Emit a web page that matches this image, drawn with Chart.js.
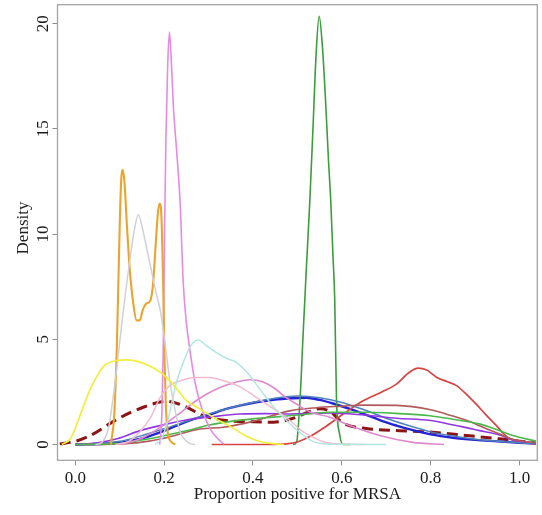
<!DOCTYPE html>
<html>
<head>
<meta charset="utf-8">
<script src="https://cdn.jsdelivr.net/npm/chart.js@4.4.1/dist/chart.umd.min.js"></script>
<style>
html,body{margin:0;padding:0;background:#fff;}
canvas{display:block;}
</style>
</head>
<body>
<canvas id="c" width="542" height="515"></canvas>
<script>
// ---- tick labels / titles ----
const xTickValues = [0, 0.2, 0.4, 0.6, 0.8, 1.0];
const xTickLabels = ["0.0", "0.2", "0.4", "0.6", "0.8", "1.0"];
const yTickValues = [0, 5, 10, 15, 20];
const yTickLabels = ["0", "5", "10", "15", "20"];
const xTitle = "Proportion positive for MRSA";
const yTitle = "Density";

// ---- series (x = proportion, y = density) ----
const yellowX = [-0.03, -0.01, 0.005, 0.02, 0.034, 0.05, 0.065, 0.09, 0.116, 0.14, 0.165, 0.19, 0.21, 0.23, 0.25, 0.28, 0.31, 0.35, 0.38, 0.41, 0.44, 0.47];
const yellowY = [0, 0.3, 1.06, 1.9, 2.64, 3.3, 3.74, 3.98, 4.02, 3.95, 3.75, 3.45, 3.1, 2.6, 2.1, 1.7, 1.3, 0.85, 0.45, 0.18, 0.05, 0];

const orangeX = [0.08, 0.088, 0.094, 0.099, 0.103, 0.107, 0.111, 0.116, 0.122, 0.13, 0.138, 0.145, 0.152, 0.16, 0.168, 0.175, 0.181, 0.186, 0.19, 0.194, 0.198, 0.201, 0.204, 0.208, 0.215, 0.225];
const orangeY = [0, 1.5, 5, 9.5, 12.4, 13.05, 12.4, 10.5, 8.5, 6.8, 5.9, 5.9, 6.4, 6.7, 6.8, 7.6, 9.5, 11.0, 11.45, 10.8, 7.5, 4.0, 1.8, 0.6, 0.15, 0];

const greyX = [0.045, 0.06, 0.075, 0.085, 0.094, 0.105, 0.116, 0.125, 0.133, 0.142, 0.152, 0.162, 0.172, 0.182, 0.192, 0.202, 0.213, 0.225, 0.236, 0.248, 0.26, 0.27];
const greyY = [0, 0.1, 0.8, 2.2, 3.74, 5.8, 7.7, 9.1, 10.2, 10.92, 10.2, 9.2, 8.2, 7.2, 6.3, 4.8, 3.0, 1.6, 0.6, 0.2, 0.03, 0];

const violetX = [0.19, 0.195, 0.198, 0.201, 0.204, 0.208, 0.212, 0.216, 0.221, 0.228, 0.236, 0.243, 0.25, 0.258, 0.27, 0.288, 0.305, 0.32, 0.335];
const violetY = [0, 1.5, 4.5, 10, 14.5, 18, 19.6, 18.3, 16, 14, 11.5, 7.7, 5.8, 4.5, 2.9, 1.5, 0.7, 0.3, 0];

const cyanX = [0.18, 0.195, 0.21, 0.228, 0.245, 0.26, 0.277, 0.295, 0.318, 0.34, 0.363, 0.393, 0.42, 0.45, 0.48, 0.51, 0.535, 0.56, 0.6, 0.7];
const cyanY = [0, 0.3, 1.3, 2.97, 4.0, 4.7, 4.97, 4.7, 4.37, 4.1, 3.9, 3.27, 2.5, 1.7, 1.05, 0.5, 0.15, 0.04, 0.01, 0];

const pinkX = [0.09, 0.12, 0.145, 0.17, 0.19, 0.21, 0.24, 0.27, 0.3, 0.33, 0.37, 0.4, 0.43, 0.46, 0.483, 0.51, 0.535, 0.56, 0.6, 0.65];
const pinkY = [0, 0.15, 0.6, 1.3, 2.2, 2.75, 3.05, 3.18, 3.18, 3.05, 2.75, 2.35, 1.93, 1.5, 1.14, 0.65, 0.35, 0.12, 0.02, 0];

const orchidX = [0.1, 0.15, 0.19, 0.228, 0.26, 0.296, 0.33, 0.36, 0.393, 0.42, 0.45, 0.47, 0.5, 0.528, 0.573, 0.618, 0.685, 0.76, 0.83];
const orchidY = [0, 0.3, 0.8, 1.37, 1.9, 2.4, 2.75, 2.95, 3.08, 3.0, 2.65, 2.3, 1.9, 1.55, 1.3, 0.9, 0.43, 0.1, 0];

const greenX = [0.49, 0.498, 0.506, 0.513, 0.52, 0.528, 0.535, 0.542, 0.549, 0.556, 0.563, 0.57, 0.575, 0.58, 0.584, 0.588, 0.595, 0.603, 0.62];
const greenY = [0, 0.1, 2.16, 5.3, 8.3, 11.6, 15, 18.5, 20.35, 19, 16.5, 13.5, 11.6, 9, 6.9, 2.16, 0.5, 0, 0];

const limeX = [0.0, 0.1, 0.146, 0.2, 0.25, 0.296, 0.35, 0.4, 0.446, 0.5, 0.573, 0.648, 0.72, 0.798, 0.85, 0.91, 0.95, 0.985, 1.037];
const limeY = [0, 0.05, 0.2, 0.42, 0.65, 0.9, 1.1, 1.22, 1.3, 1.4, 1.53, 1.53, 1.48, 1.37, 1.2, 0.98, 0.7, 0.43, 0.16];

const redX = [0.307, 0.35, 0.4, 0.45, 0.476, 0.5, 0.53, 0.56, 0.6, 0.648, 0.69, 0.723, 0.75, 0.772, 0.79, 0.813, 0.838, 0.858, 0.88, 0.902, 0.925, 0.948, 0.965, 0.978, 1.0, 1.037];
const redY = [0, 0, 0, 0.01, 0.03, 0.12, 0.4, 0.8, 1.4, 2.08, 2.5, 2.87, 3.4, 3.63, 3.55, 3.2, 2.98, 2.8, 2.4, 1.93, 1.4, 0.9, 0.5, 0.27, 0.12, 0.03];

const steelX = [0.0, 0.1, 0.146, 0.2, 0.25, 0.3, 0.35, 0.4, 0.45, 0.5, 0.55, 0.6, 0.65, 0.7, 0.75, 0.8, 0.85, 0.9, 0.95, 1.0, 1.037];
const steelY = [0, 0.15, 0.4, 0.75, 1.1, 1.45, 1.75, 2.0, 2.2, 2.3, 2.22, 2.0, 1.65, 1.25, 0.9, 0.6, 0.4, 0.25, 0.15, 0.08, 0.04];

const purpleX = [0.0, 0.05, 0.094, 0.146, 0.191, 0.258, 0.3, 0.37, 0.43, 0.483, 0.53, 0.573, 0.65, 0.723, 0.8, 0.835, 0.87, 0.91, 0.955, 0.985, 1.037];
const purpleY = [0, 0.08, 0.27, 0.66, 0.9, 1.2, 1.3, 1.45, 1.47, 1.45, 1.48, 1.5, 1.4, 1.25, 1.14, 1.0, 0.85, 0.66, 0.45, 0.22, 0.08];

const brownX = [0.0, 0.1, 0.146, 0.2, 0.281, 0.333, 0.4, 0.483, 0.543, 0.6, 0.648, 0.723, 0.8, 0.85, 0.88, 0.92, 0.955, 0.985, 1.037];
const brownY = [0, 0.03, 0.1, 0.3, 0.74, 0.82, 1.1, 1.6, 1.75, 1.82, 1.87, 1.86, 1.65, 1.35, 1.15, 0.8, 0.5, 0.25, 0.07];

const blueX = [0.0, 0.08, 0.146, 0.2, 0.258, 0.3, 0.333, 0.37, 0.41, 0.446, 0.49, 0.52, 0.55, 0.58, 0.618, 0.65, 0.693, 0.723, 0.76, 0.8, 0.85, 0.9, 0.95, 1.0, 1.037];
const blueY = [0, 0.05, 0.27, 0.65, 1.15, 1.4, 1.65, 1.85, 2.02, 2.13, 2.2, 2.22, 2.12, 1.95, 1.69, 1.45, 1.1, 0.9, 0.68, 0.48, 0.32, 0.22, 0.15, 0.08, 0.04];

const dashX = [-0.035, 0.0, 0.034, 0.094, 0.153, 0.205, 0.243, 0.288, 0.34, 0.4, 0.446, 0.498, 0.525, 0.551, 0.575, 0.595, 0.61, 0.655, 0.73, 0.805, 0.88, 0.955, 1.0, 1.037];
const dashY = [0.03, 0.15, 0.43, 1.2, 1.77, 2.05, 1.85, 1.37, 1.14, 1.08, 1.06, 1.3, 1.55, 1.7, 1.55, 1.15, 0.95, 0.76, 0.66, 0.58, 0.43, 0.27, 0.16, 0.07];

function pts(xs, ys) { return xs.map((x, i) => ({ x: x, y: ys[i] })); }
function ds(xs, ys, color, width, dash) {
  return {
    data: pts(xs, ys), borderColor: color, borderWidth: width, borderDash: dash || [],
    pointRadius: 0, fill: false, tension: 0.4, cubicInterpolationMode: 'monotone'
  };
}

const datasets = [
  ds(yellowX, yellowY, '#f2ee3c', 1.7),
  ds(greyX, greyY, '#cfcfd8', 1.5),
  ds(cyanX, cyanY, '#b2e6e2', 1.5),
  ds(pinkX, pinkY, '#f3bccd', 1.5),
  ds(orangeX, orangeY, '#eba42c', 2.1),
  ds(violetX, violetY, '#e68ae6', 1.6),
  ds(orchidX, orchidY, '#e088cc', 1.6),
  ds(limeX, limeY, '#4cb84c', 1.6),
  ds(brownX, brownY, '#b05a5a', 1.6),
  ds(purpleX, purpleY, '#9238e0', 1.6),
  ds(steelX, steelY, '#4f82b8', 1.5),
  ds(redX, redY, '#d64444', 1.7),
  ds(greenX, greenY, '#3a9e3a', 1.6),
  ds(blueX, blueY, '#2424d4', 2.4),
  ds(dashX, dashY, '#8b1414', 3.0, [11, 6])
];

const SERIF = '"Liberation Serif", "Times New Roman", serif';

const rPlot = {
  id: 'rPlot',
  afterDraw(chart) {
    const ctx = chart.ctx, a = chart.chartArea, ys = chart.scales.y;
    ctx.save();
    ctx.strokeStyle = '#a4a4a4';
    ctx.lineWidth = 1.3;
    ctx.strokeRect(a.left, a.top, a.right - a.left, a.bottom - a.top);
    ctx.fillStyle = '#1c1c1c';
    ctx.font = '17px ' + SERIF;
    ctx.textAlign = 'center';
    ctx.textBaseline = 'alphabetic';
    yTickValues.forEach((v, i) => {
      const py = ys.getPixelForValue(v);
      ctx.save();
      ctx.translate(47.5, py);
      ctx.rotate(-Math.PI / 2);
      ctx.fillText(yTickLabels[i], 0, 0);
      ctx.restore();
    });
    ctx.fillText(xTitle, (a.left + a.right) / 2, 499);
    ctx.save();
    ctx.translate(28, 228);
    ctx.rotate(-Math.PI / 2);
    ctx.fillText(yTitle, 0, 0);
    ctx.restore();
    ctx.restore();
  }
};

new Chart(document.getElementById('c'), {
  type: 'line',
  data: { datasets: datasets },
  plugins: [rPlot],
  options: {
    responsive: false,
    devicePixelRatio: 1,
    animation: false,
    layout: { padding: { left: 0, right: 4.7, top: 4.7, bottom: 0 } },
    plugins: { legend: { display: false }, tooltip: { enabled: false } },
    scales: {
      x: {
        type: 'linear', min: -0.04, max: 1.04,
        afterBuildTicks: s => { s.ticks = xTickValues.map(v => ({ value: v })); },
        ticks: {
          autoSkip: false, maxRotation: 0, padding: 3, color: '#1c1c1c',
          font: { family: SERIF, size: 17 },
          callback: (v) => { const i = xTickValues.findIndex(t => Math.abs(t - v) < 1e-9); return i >= 0 ? xTickLabels[i] : ''; }
        },
        grid: { drawOnChartArea: false, drawTicks: true, tickLength: 5, color: '#8c8c8c', lineWidth: 1 },
        border: { display: false },
        afterFit: s => { s.height = 54.7; }
      },
      y: {
        type: 'linear', min: -0.75, max: 20.9,
        afterBuildTicks: s => { s.ticks = yTickValues.map(v => ({ value: v })); },
        ticks: { display: false },
        grid: { drawOnChartArea: false, drawTicks: true, tickLength: 5, color: '#8c8c8c', lineWidth: 1 },
        border: { display: false },
        afterFit: s => { s.width = 57.5; }
      }
    }
  }
});
</script>
</body>
</html>
